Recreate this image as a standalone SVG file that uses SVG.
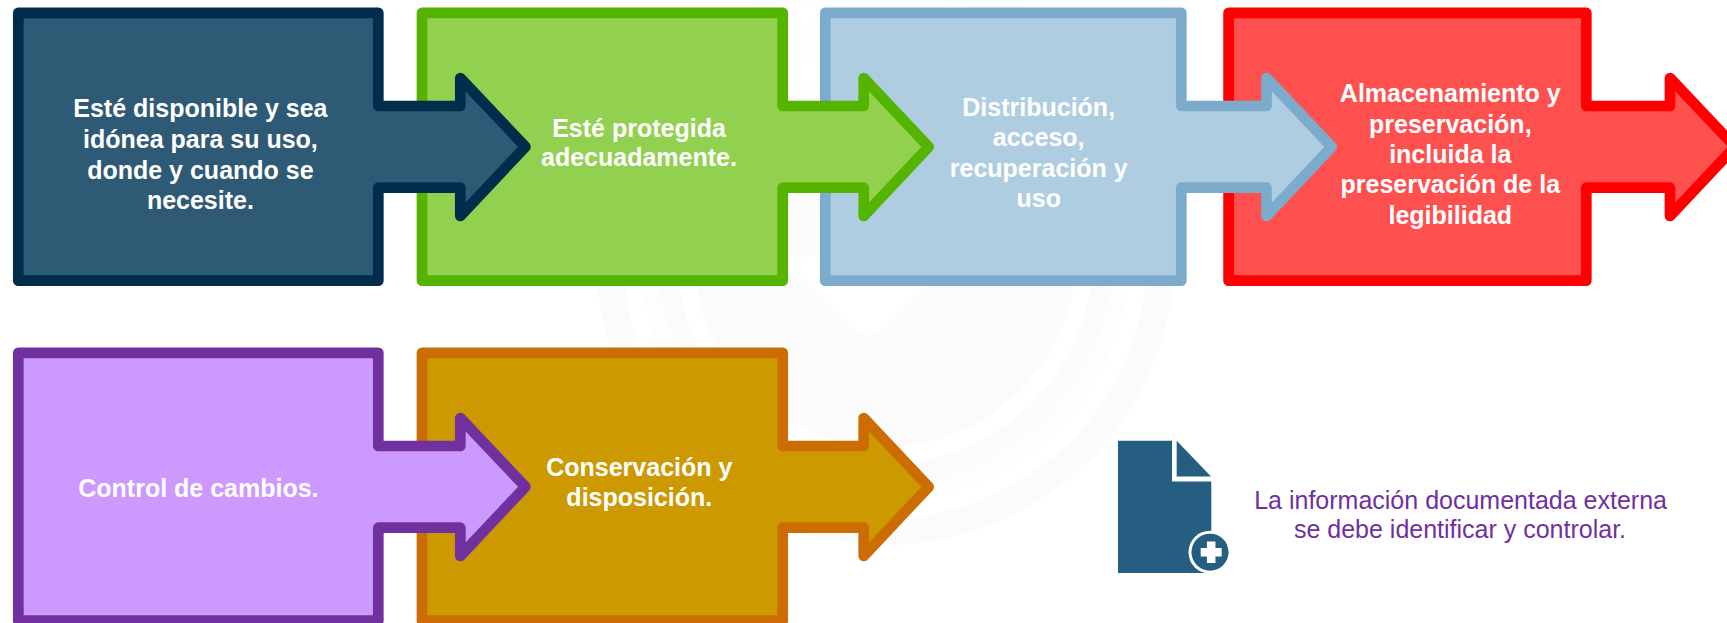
<svg xmlns="http://www.w3.org/2000/svg" width="1727" height="623" viewBox="0 0 1727 623">
<style>
text{font-family:"Liberation Sans",Arial,sans-serif;text-anchor:middle;transform:translateY(.7px)}
.l{font-size:25px;font-weight:700;fill:#fff}
.n{font-size:25px;fill:#7030A0}
.s{stroke-width:10.7;stroke-linejoin:round}
.wm{fill:none}
</style>
<defs>
<linearGradient id="fade" gradientUnits="userSpaceOnUse" x1="0" y1="90" x2="0" y2="120"><stop offset="0" stop-color="#fdfdfd"/><stop offset="1" stop-color="#fbfbfb"/></linearGradient>
</defs>
<rect width="1727" height="623" fill="#fff"/>
<g id="watermark">
<circle cx="885" cy="256" r="191" fill="url(#fade)"/>
<circle class="wm" cx="885" cy="256" r="218" stroke="url(#fade)" stroke-width="20"/>
<circle class="wm" cx="885" cy="256" r="236.5" stroke="#fdfdfd" stroke-width="17"/>
<circle class="wm" cx="885" cy="256" r="275.5" stroke="url(#fade)" stroke-width="27"/>
<path d="M780 257L848 325Q868 345 888 325L960 253Z" fill="#fff"/>
</g>
<g id="connectors"></g>
<g id="node-red"><path class="s" fill="#FF5050" stroke="#FF0000" d="M1228.6 12.8H1586.3V106H1670V78L1735 146.8L1670 216V187.7H1586.3V280.7H1228.6Z"/>
<text class="l"><tspan x="1450.3" y="101.7">Almacenamiento y</tspan><tspan x="1450.3" y="132.3">preservación,</tspan><tspan x="1450.3" y="162.7">incluida la</tspan><tspan x="1450.3" y="192.7">preservación de la</tspan><tspan x="1450.3" y="223.3">legibilidad</tspan></text></g>
<g id="node-blue"><path class="s" fill="#AFCDE1" stroke="#7CABCC" d="M825.3 12.8H1181.3V106H1266.5V78L1331.7 146.8L1266.5 216V187.7H1181.3V280.7H825.3Z"/>
<text class="l"><tspan x="1038.7" y="115.7">Distribución,</tspan><tspan x="1038.7" y="145.7">acceso,</tspan><tspan x="1038.7" y="176.7">recuperación y</tspan><tspan x="1038.7" y="206.7">uso</tspan></text></g>
<g id="node-green"><path class="s" fill="#92D050" stroke="#55B400" d="M422 12.8H782.7V106H863.7V78L928.7 146.8L863.7 216V187.7H782.7V280.7H422Z"/>
<text class="l"><tspan x="639" y="136">Esté protegida</tspan><tspan x="639" y="165.7">adecuadamente.</tspan></text></g>
<g id="node-dark"><path class="s" fill="#2E5A75" stroke="#002D4B" d="M18.3 12.8H378.3V106H460.3V78L525.4 146.8L460.3 216V187.7H378.3V280.7H18.3Z"/>
<text class="l"><tspan x="200.4" y="116.7">Esté disponible y sea</tspan><tspan x="200.4" y="147.7">idónea para su uso,</tspan><tspan x="200.4" y="178">donde y cuando se</tspan><tspan x="200.4" y="208.3">necesite.</tspan></text></g>
<g id="node-gold"><path class="s" fill="#CC9900" stroke="#CC6D04" d="M422 352.8H782.7V446H863.7V418L928.7 486.8L863.7 556V527.7H782.7V620.7H422Z"/>
<text class="l"><tspan x="639.3" y="475.7">Conservación y</tspan><tspan x="639.3" y="505.7">disposición.</tspan></text></g>
<g id="node-purple"><path class="s" fill="#CC99FF" stroke="#7030A0" d="M18.3 352.8H378.3V446H460.3V418L525.4 486.8L460.3 556V527.7H378.3V620.7H18.3Z"/>
<text class="l" x="198.4" y="496.7">Control de cambios.</text></g>
<g id="node-note"><path fill="#255E80" d="M1118 440.7H1172V481.4H1211.3V573H1118Z"/><path fill="#255E80" d="M1176.7 440.7L1211 476.4H1176.7Z"/>
<circle cx="1210" cy="552.2" r="21.5" fill="#fff"/><circle cx="1210" cy="552.2" r="18.5" fill="#255E80"/>
<path d="M1200.7 552.2H1221.7M1211.2 541.5V562.9" stroke="#fff" stroke-width="8.5" stroke-linejoin="round" fill="none"/>
<text class="n"><tspan x="1460.6" y="508">La información documentada externa</tspan><tspan x="1460" y="537.7">se debe identificar y controlar.</tspan></text></g>
</svg>
